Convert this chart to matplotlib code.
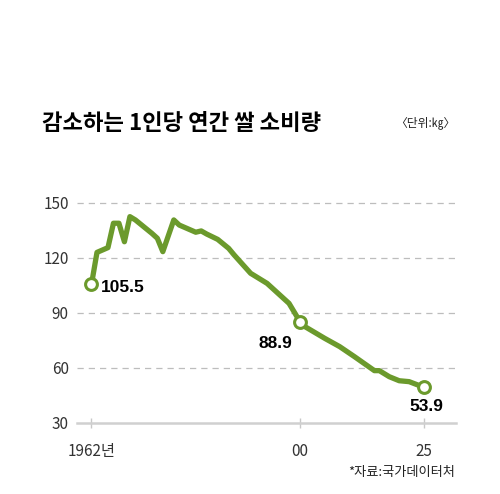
import numpy as np
import matplotlib
matplotlib.use('Agg')
import matplotlib.pyplot as plt

# data (kg per person per year)
years = [1962, 1963, 1965, 1966, 1967, 1968, 1969, 1970, 1973, 1974,
         1975, 1977, 1978, 1981, 1982, 1983, 1985, 1987, 1988, 1991,
         1994, 1998, 2000, 2001, 2005, 2008, 2011, 2015, 2016, 2018,
         2020, 2022, 2025]
rice = [105.5, 122.9, 125.5, 138.8, 138.8, 128.7, 142.4, 140.6, 133.3, 130.6,
        123.3, 140.6, 137.8, 133.9, 134.6, 132.9, 130.0, 125.1, 121.5, 111.5,
        106.0, 95.1, 85.1, 82.4, 76.0, 71.5, 66.0, 58.4, 58.4, 55.1,
        52.9, 52.4, 49.3]

mark_years = [1962, 2000, 2025]
mark_labels = ['105.5', '88.9', '53.9']

xtick_pos = [1962, 2000, 2025]
xtick_labels = ['1962년', '00', '25']
ytick_pos = [30, 60, 90, 120, 150]

GREEN = '#6b9a2c'
KR = ['Liberation Sans Narrow', 'Noto Sans CJK KR']
KR_BOLD = ['Noto Sans CJK KR']


# axis is a bit wider before 2000 than after it in the original
def fwd(y):
    y = np.asarray(y, dtype=float)
    return np.where(y <= 2000, (y - 2000) * 208.5 / 38, (y - 2000) * 124 / 25)


def inv(p):
    p = np.asarray(p, dtype=float)
    return np.where(p <= 0, 2000 + p * 38 / 208.5, 2000 + p * 25 / 124)


fig = plt.figure(figsize=(5, 4.94), dpi=100)
ax = fig.add_axes([0.154, 0.1443, 0.758, 0.4565])
ax.set_xscale('function', functions=(fwd, inv))

ax.plot(years, rice, color=GREEN, lw=3.8, solid_joinstyle='round',
        solid_capstyle='round', zorder=3)
mx = [years.index(y) for y in mark_years]
ax.plot([years[i] for i in mx], [rice[i] for i in mx], 'o', ms=8.5,
        mfc='white', mec=GREEN, mew=2.2, zorder=4)

ax.set_xlim(2000 - 223 / 5.487, 2000 + 156 / 4.96)
ax.set_ylim(30, 153)

for yv in ytick_pos[1:]:
    ax.axhline(yv, color='#bdbdbd', lw=0.9, ls=(0, (5, 4)), zorder=1)

for sp in ['top', 'right', 'left']:
    ax.spines[sp].set_visible(False)
ax.spines['bottom'].set_color('#d0d0d0')
ax.spines['bottom'].set_linewidth(1.8)

ax.set_yticks(ytick_pos)
ax.set_yticklabels([str(v) for v in ytick_pos], family=KR, fontsize=11,
                   color='#333333')
ax.tick_params(axis='y', length=0, pad=6)
ax.set_xticks(xtick_pos)
ax.set_xticklabels(xtick_labels, family=KR, fontsize=11, color='#333333')
ax.tick_params(axis='x', direction='inout', length=7, width=1,
               color='#c8c8c8', pad=11)
ax.minorticks_off()

# value labels beside the hollow markers
ax.annotate(mark_labels[0], (years[mx[0]], rice[mx[0]]), xytext=(7, -2),
            textcoords='offset points', ha='left', va='center',
            fontsize=12.5, fontweight='bold', family='Liberation Sans')
ax.annotate(mark_labels[1], (years[mx[1]], rice[mx[1]]), xytext=(-18, -16),
            textcoords='offset points', ha='center', va='center',
            fontsize=12.5, fontweight='bold', family='Liberation Sans')
ax.annotate(mark_labels[2], (years[mx[2]], rice[mx[2]]), xytext=(2, -14),
            textcoords='offset points', ha='center', va='center',
            fontsize=12.5, fontweight='bold', family='Liberation Sans')

fig.text(0.084, 0.751, '감소하는 1인당 연간 쌀 소비량', family=KR_BOLD,
         fontsize=16, fontweight='bold', va='center', ha='left')
fig.text(0.91, 0.751, '〈단위:㎏〉', family=['Noto Sans CJK KR', 'DejaVu Sans'],
         fontsize=8.5, va='center', ha='right', color='#222222')
fig.text(0.91, 0.044, '*자료:국가데이터처', family=KR, fontsize=9.5,
         va='center', ha='right', color='#222222')

fig.savefig('out.png', dpi=100, facecolor='white')
